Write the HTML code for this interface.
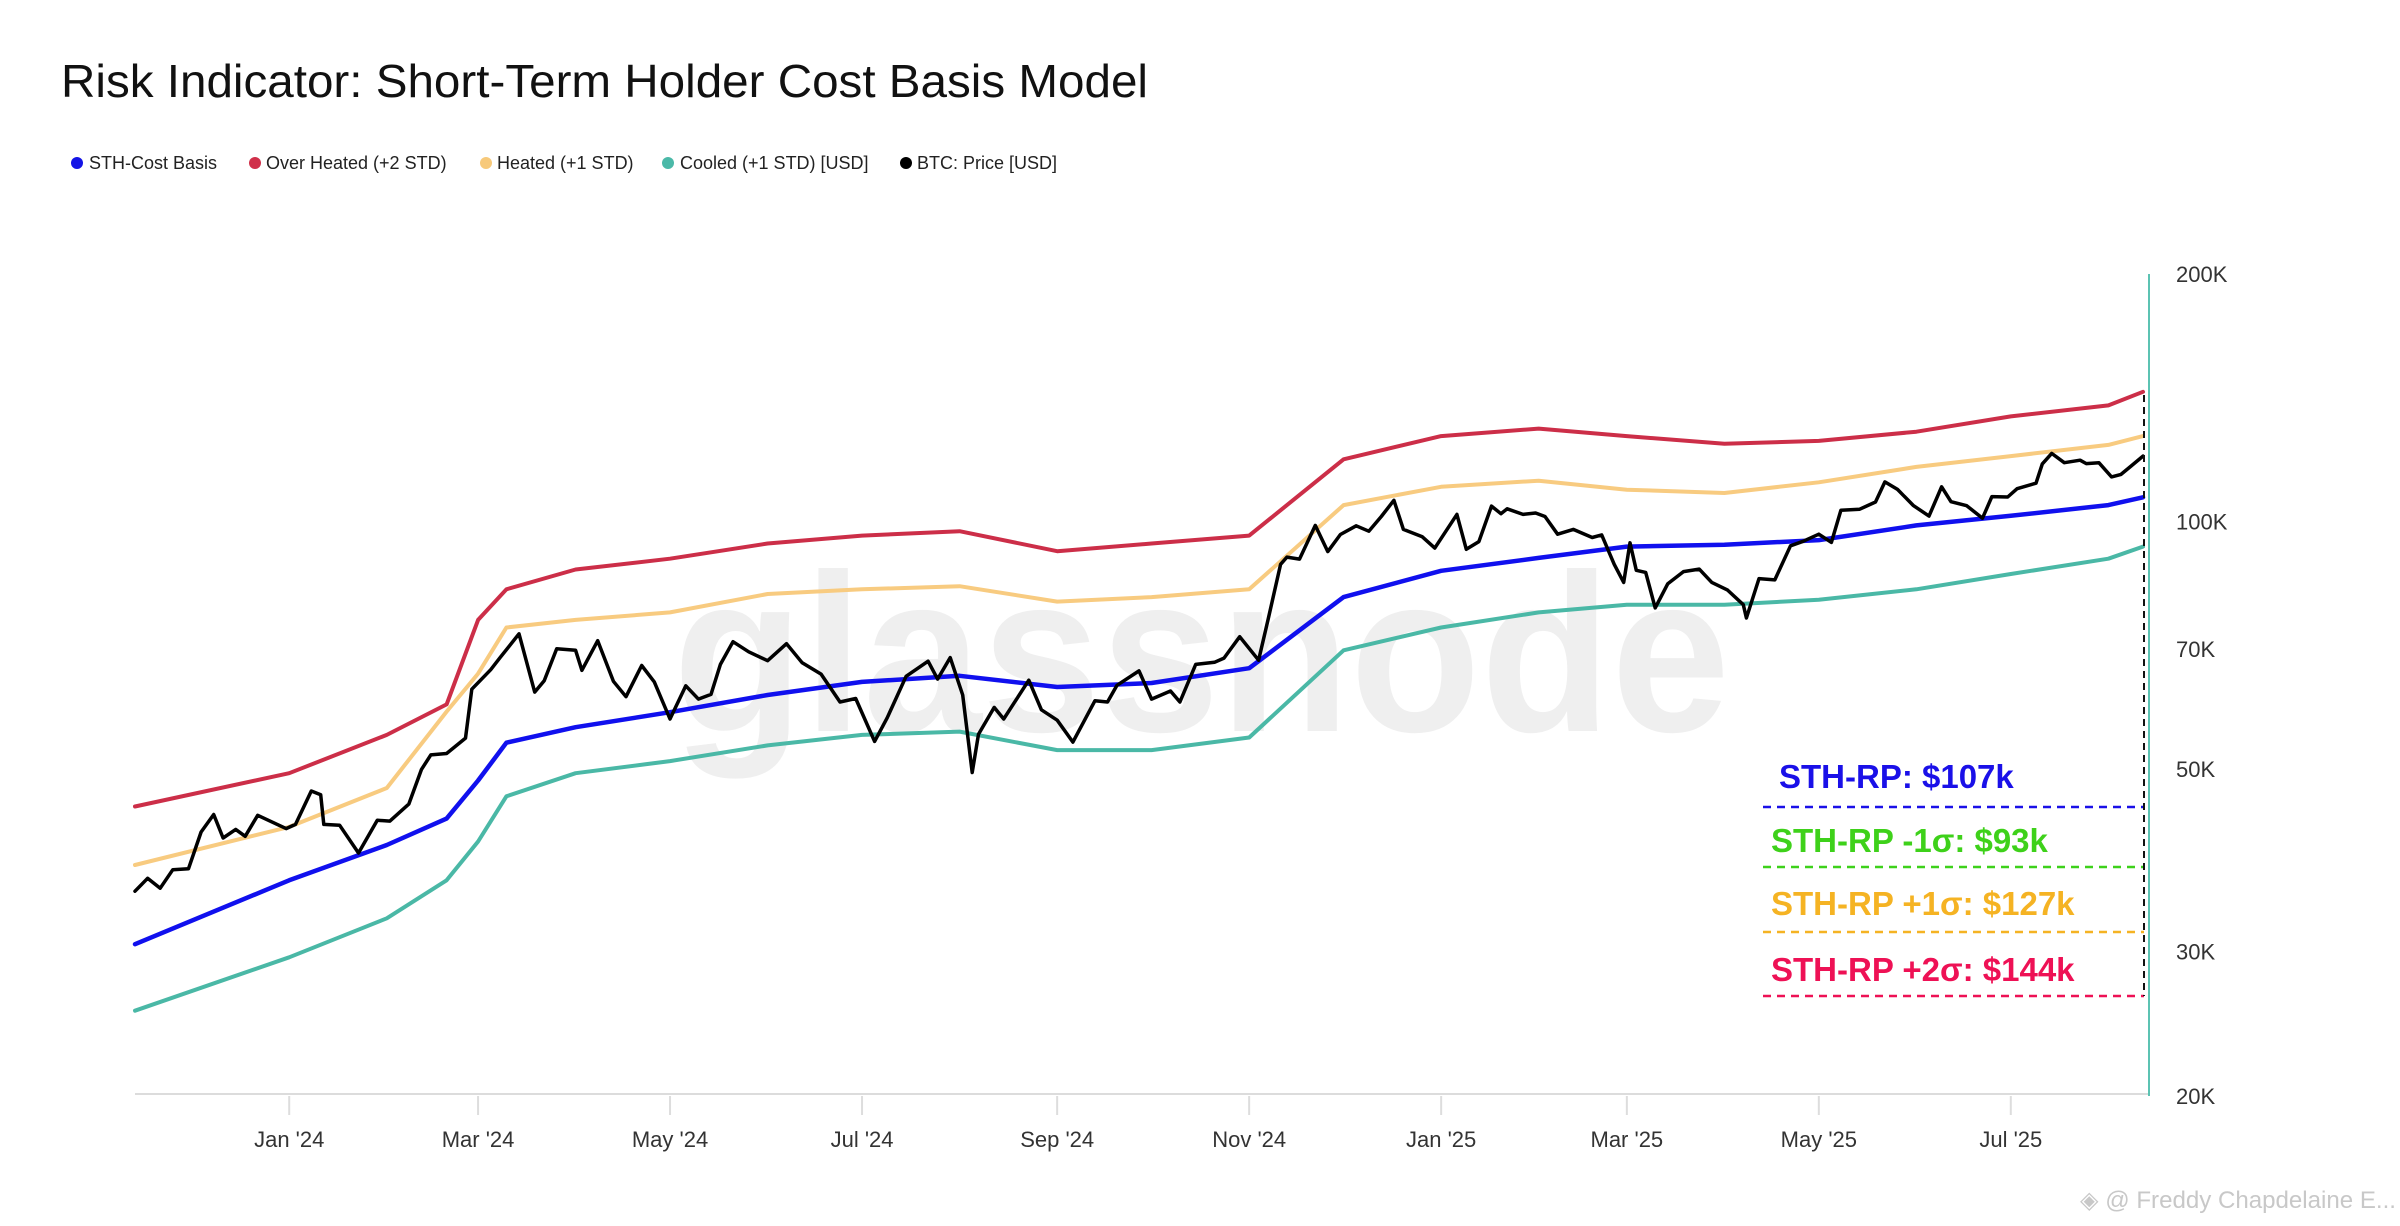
<!DOCTYPE html>
<html><head><meta charset="utf-8">
<style>
html,body{margin:0;padding:0;background:#fff;}
svg{display:block;font-family:"Liberation Sans",sans-serif;}
</style></head>
<body>
<svg id="chart" width="2400" height="1226" viewBox="0 0 2400 1226" xmlns="http://www.w3.org/2000/svg">
<rect x="0" y="0" width="2400" height="1226" fill="#fff"/>
<text x="61" y="97" font-size="46" fill="#111" textLength="1087" lengthAdjust="spacingAndGlyphs">Risk Indicator: Short-Term Holder Cost Basis Model</text>
<g font-size="18" fill="#222">
 <g><circle cx="77" cy="163" r="6" fill="#1414e6"/><text x="89" y="169">STH-Cost Basis</text></g>
 <g><circle cx="255" cy="163" r="6" fill="#d0304a"/><text x="266" y="169">Over Heated (+2 STD)</text></g>
 <g><circle cx="486" cy="163" r="6" fill="#f7c97a"/><text x="497" y="169">Heated (+1 STD)</text></g>
 <g><circle cx="668" cy="163" r="6" fill="#4bb9a8"/><text x="680" y="169">Cooled (+1 STD) [USD]</text></g>
 <g><circle cx="906" cy="163" r="6" fill="#000"/><text x="917" y="169">BTC: Price [USD]</text></g>
</g>
<text x="673" y="731" font-size="225" font-weight="bold" fill="#efefef" textLength="1057" lengthAdjust="spacingAndGlyphs">glassnode</text>
<g id="axes"></g>
<g id="series"></g>
<g font-weight="bold" font-size="33">
 <text x="1779" y="788" fill="#1a10e8">STH-RP: $107k</text>
 <line x1="1763" y1="807" x2="2144" y2="807" stroke="#1a10e8" stroke-width="2.5" stroke-dasharray="8,6"/>
 <text x="1771" y="852" fill="#3ed11a">STH-RP -1σ: $93k</text>
 <line x1="1763" y1="867" x2="2144" y2="867" stroke="#3ed11a" stroke-width="2.5" stroke-dasharray="8,6"/>
 <text x="1771" y="915" fill="#f5b323">STH-RP +1σ: $127k</text>
 <line x1="1763" y1="932" x2="2144" y2="932" stroke="#f5b323" stroke-width="2.5" stroke-dasharray="8,6"/>
 <text x="1771" y="981" fill="#ee1155">STH-RP +2σ: $144k</text>
 <line x1="1763" y1="996" x2="2144" y2="996" stroke="#ee1155" stroke-width="2.5" stroke-dasharray="8,6"/>
 <line x1="2144" y1="395" x2="2144" y2="996" stroke="#111" stroke-width="2" stroke-dasharray="7,5"/>
</g>
<text x="2080" y="1208" font-size="24" fill="#c8c8c8" textLength="316" lengthAdjust="spacingAndGlyphs">◈ @ Freddy Chapdelaine E...</text>
</svg>
<script>
const bandDates = ["2023-11-13","2024-01-01","2024-02-01","2024-02-20","2024-03-01","2024-03-10","2024-04-01","2024-05-01","2024-06-01","2024-07-01","2024-08-01","2024-09-01","2024-10-01","2024-11-01","2024-12-01","2025-01-01","2025-02-01","2025-03-01","2025-04-01","2025-05-01","2025-06-01","2025-07-01","2025-08-01","2025-08-12"];
const sthCostBasis = [30.6,36.6,40.4,43.5,48.4,53.8,56.2,58.6,61.5,63.8,64.9,62.9,63.6,66.3,80.9,87.1,90.3,93.2,93.7,94.9,98.9,101.6,104.7,107];
const overHeated = [45.0,49.4,55.0,59.9,75.9,82.7,87.4,90.1,94.0,96.1,97.3,92.0,94.0,96.1,119,127,129.7,127,124.3,125.3,128.6,134.2,138.4,143.8];
const heated = [38.2,42.5,47.4,58.7,65.3,74.3,75.9,77.5,81.6,82.7,83.4,79.9,80.9,82.7,104.7,110.2,112.1,109.3,108.3,111.6,116.5,120.1,123.9,127];
const cooled = [25.4,29.5,32.9,36.6,40.8,46.3,49.4,51.1,53.4,55.0,55.5,52.7,52.7,54.6,69.7,74.3,77.5,79.2,79.2,80.3,82.7,86.3,90.1,93.2];
const priceDates = ["2023-11-13","2023-11-17","2023-11-21","2023-11-25","2023-11-30","2023-12-04","2023-12-08","2023-12-11","2023-12-15","2023-12-18","2023-12-22","2023-12-27","2023-12-31","2024-01-03","2024-01-08","2024-01-11","2024-01-12","2024-01-17","2024-01-23","2024-01-29","2024-02-02","2024-02-08","2024-02-12","2024-02-15","2024-02-20","2024-02-26","2024-02-28","2024-03-05","2024-03-08","2024-03-14","2024-03-19","2024-03-22","2024-03-26","2024-04-01","2024-04-03","2024-04-08","2024-04-13","2024-04-17","2024-04-22","2024-04-26","2024-05-01","2024-05-06","2024-05-10","2024-05-14","2024-05-17","2024-05-21","2024-05-26","2024-06-01","2024-06-07","2024-06-12","2024-06-18","2024-06-24","2024-06-29","2024-07-05","2024-07-09","2024-07-15","2024-07-22","2024-07-25","2024-07-29","2024-08-02","2024-08-05","2024-08-07","2024-08-12","2024-08-15","2024-08-23","2024-08-27","2024-09-01","2024-09-06","2024-09-10","2024-09-13","2024-09-17","2024-09-20","2024-09-27","2024-10-01","2024-10-07","2024-10-10","2024-10-15","2024-10-21","2024-10-24","2024-10-29","2024-11-04","2024-11-07","2024-11-11","2024-11-13","2024-11-17","2024-11-22","2024-11-26","2024-11-30","2024-12-05","2024-12-09","2024-12-13","2024-12-17","2024-12-20","2024-12-26","2024-12-30","2025-01-06","2025-01-09","2025-01-13","2025-01-17","2025-01-20","2025-01-22","2025-01-27","2025-01-31","2025-02-03","2025-02-07","2025-02-12","2025-02-18","2025-02-21","2025-02-25","2025-02-28","2025-03-02","2025-03-04","2025-03-07","2025-03-10","2025-03-14","2025-03-19","2025-03-24","2025-03-28","2025-04-02","2025-04-07","2025-04-08","2025-04-12","2025-04-17","2025-04-22","2025-04-26","2025-05-01","2025-05-05","2025-05-08","2025-05-14","2025-05-19","2025-05-22","2025-05-26","2025-05-31","2025-06-05","2025-06-09","2025-06-12","2025-06-17","2025-06-22","2025-06-25","2025-06-30","2025-07-03","2025-07-09","2025-07-11","2025-07-14","2025-07-18","2025-07-23","2025-07-25","2025-07-29","2025-08-02","2025-08-05","2025-08-08","2025-08-12"];
const btcPrice = [35.5,36.8,35.8,37.7,37.8,41.9,44.0,41.2,42.2,41.4,43.9,43.0,42.3,42.8,47.0,46.5,42.8,42.7,39.5,43.3,43.2,45.3,49.9,52.0,52.2,54.5,62.5,66.0,68.3,73.0,62.0,64.0,70.0,69.7,65.9,71.6,63.9,61.2,66.8,63.8,57.5,63.1,60.8,61.6,67.0,71.4,69.4,67.7,71.0,67.3,65.2,60.3,60.9,54.0,57.7,64.8,67.6,64.3,68.3,61.5,49.5,55.1,59.4,57.5,64.1,59.0,57.3,53.9,57.6,60.5,60.3,63.2,65.8,60.8,62.2,60.3,67.0,67.4,68.2,72.4,67.8,75.9,88.7,90.5,90.0,98.9,91.9,96.4,98.8,97.3,101.4,106.1,97.8,95.8,92.8,102.0,92.5,94.5,104.4,102.2,103.6,102.0,102.4,101.4,96.5,97.8,95.6,96.3,88.7,84.3,94.2,87.2,86.7,78.5,84.0,86.9,87.5,84.3,82.5,79.2,76.3,85.2,84.9,93.4,94.6,96.5,94.3,103.2,103.5,105.6,111.7,109.4,104.6,101.5,110.2,105.7,104.5,100.9,107.2,107.1,109.6,111.3,117.5,121.0,117.9,118.7,117.6,117.9,113.3,114.1,116.6,120.1];
const yTicks = [20,30,50,70,100,200];
const yTickLabels = ["20K","30K","50K","70K","100K","200K"];
const xTickDates = ["2024-01-01","2024-03-01","2024-05-01","2024-07-01","2024-09-01","2024-11-01","2025-01-01","2025-03-01","2025-05-01","2025-07-01"];
const xTickLabels = ["Jan '24","Mar '24","May '24","Jul '24","Sep '24","Nov '24","Jan '25","Mar '25","May '25","Jul '25"];

const NS = "http://www.w3.org/2000/svg";
const t0 = Date.parse("2023-11-13"), t1 = Date.parse("2025-08-12");
const X0 = 135, X1 = 2143, Y20 = 1096, DEC = 822;
function xScale(d){ return X0 + (Date.parse(d) - t0) / (t1 - t0) * (X1 - X0); }
function yScale(v){ return Y20 - DEC * Math.log10(v / 20); }
function mk(tag, attrs, parent){ const e = document.createElementNS(NS, tag); for (const k in attrs) e.setAttribute(k, attrs[k]); parent.appendChild(e); return e; }

const axes = document.getElementById('axes');
const baseline = mk('line', {x1:X0, y1:1094, x2:2149, y2:1094, stroke:'#dcdcdc', 'stroke-width':2}, axes);


const rightAxis = mk('line', {x1:2149, y1:274, x2:2149, y2:1096, stroke:'#5cc3b3', 'stroke-width':2}, axes);


yTicks.forEach((v, i) => {
  const t = mk('text', {x:2176, y:yScale(v) + 8, 'font-size':22, fill:'#333'}, axes);
  t.textContent = yTickLabels[i];
  
  
});
xTickDates.forEach((d, i) => {
  const x = xScale(d);
  const tk = mk('line', {x1:x, y1:1096, x2:x, y2:1115, stroke:'#dddddd', 'stroke-width':2}, axes);
  
  
  const t = mk('text', {x:x, y:1147, 'font-size':22, fill:'#333', 'text-anchor':'middle'}, axes);
  t.textContent = xTickLabels[i];
  
  
});

const series = document.getElementById('series');
function line(dates, vals, color, w, name){
  const d = vals.map((v, i) => (i ? 'L' : 'M') + xScale(dates[i]).toFixed(1) + ',' + yScale(v).toFixed(1)).join('');
  const p = mk('path', {d:d, fill:'none', stroke:color, 'stroke-width':w, 'stroke-linejoin':'round', 'stroke-linecap':'round'}, series);
  
  
}
line(bandDates, overHeated, '#cc2e48', 4, 'over-heated-line');
line(bandDates, heated, '#f8cb80', 4, 'heated-line');
line(bandDates, cooled, '#4ab8a6', 4, 'cooled-line');
line(bandDates, sthCostBasis, '#1010ee', 4.5, 'sth-cost-basis-line');
line(priceDates, btcPrice, '#000', 3.5, 'btc-price-line');
</script>
</body></html>
